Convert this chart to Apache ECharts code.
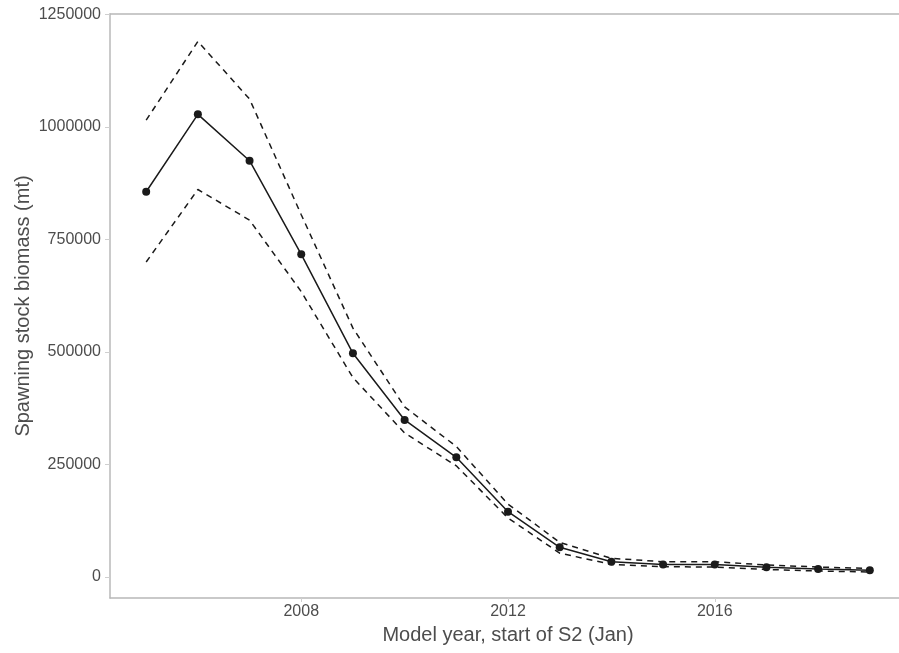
<!DOCTYPE html>
<html>
<head>
<meta charset="utf-8">
<script src="https://cdn.jsdelivr.net/npm/echarts@6/dist/echarts.min.js"></script>
<style>
html,body{margin:0;padding:0;background:#fff;}
#chart{width:899px;height:653px;}
</style>
</head>
<body>
<div id="chart"></div>
<script>
var years = [2005,2006,2007,2008,2009,2010,2011,2012,2013,2014,2015,2016,2017,2018,2019];
var ssb   = [856000,1028000,925000,717000,497000,349000,266000,145000,66000,34000,28000,28000,21500,17800,14800];
var upper = [1015000,1190000,1062000,805000,553000,378000,290000,162000,77000,41500,34000,34000,26700,22200,18900];
var lower = [700000,861000,793000,634000,443000,320000,247000,131000,53000,28000,23000,22000,16700,13300,11100];
var xTicks = [2008,2012,2016];
var yTicks = [0,250000,500000,750000,1000000,1250000];

function pairs(v){ return years.map(function(y,i){ return [y, v[i]]; }); }

var chart = echarts.init(document.getElementById('chart'), null, {renderer:'canvas'});
var font = 'Liberation Sans, Arial, sans-serif';
var axisGray = '#b8b8b8';
chart.setOption({
  animation:false,
  backgroundColor:'#ffffff',
  grid:{left:110, right:-7, top:14, bottom:55, show:false, containLabel:false, outerBoundsMode:'none'},
  xAxis:[{
    type:'value', min:2004.3, max:2019.7, position:'bottom',
    name:'Model year, start of S2 (Jan)', nameLocation:'middle', nameGap:27, nameMoveOverlap:false,
    nameTextStyle:{fontFamily:font, fontSize:20, color:'#4d4d4d'},
    axisLine:{show:true, onZero:false, lineStyle:{color:axisGray, width:1.5}},
    axisTick:{show:true, length:4, lineStyle:{color:'#cfcfcf'}, customValues:xTicks},
    axisLabel:{fontFamily:font, fontSize:16, color:'#4d4d4d', margin:6, customValues:xTicks,
               formatter:function(v){ return String(v); }},
    splitLine:{show:false}
  },{
    type:'value', min:2004.3, max:2019.7, position:'top',
    axisLine:{show:true, onZero:false, lineStyle:{color:axisGray, width:1.5}},
    axisTick:{show:false}, axisLabel:{show:false}, splitLine:{show:false}
  }],
  yAxis:{
    type:'value', min:-46667, max:1251000,
    name:'Spawning stock biomass (mt)', nameLocation:'middle', nameGap:77, nameMoveOverlap:false,
    nameTextStyle:{fontFamily:font, fontSize:20, color:'#4d4d4d'},
    axisLine:{show:true, onZero:false, lineStyle:{color:axisGray, width:1.5}},
    axisTick:{show:true, length:5, lineStyle:{color:'#cfcfcf'}, customValues:yTicks},
    axisLabel:{fontFamily:font, fontSize:16, color:'#4d4d4d', margin:9, customValues:yTicks,
               formatter:function(v){ return String(v); }},
    splitLine:{show:false}
  },
  series:[
    {type:'line', data:pairs(upper), showSymbol:false, symbol:'none',
     lineStyle:{color:'#1a1a1a', width:1.5, type:[6,5]}},
    {type:'line', data:pairs(lower), showSymbol:false, symbol:'none',
     lineStyle:{color:'#1a1a1a', width:1.5, type:[6,5]}},
    {type:'line', data:pairs(ssb), symbol:'circle', symbolSize:8,
     itemStyle:{color:'#1a1a1a'}, lineStyle:{color:'#1a1a1a', width:1.5}}
  ]
});
</script>
</body>
</html>
